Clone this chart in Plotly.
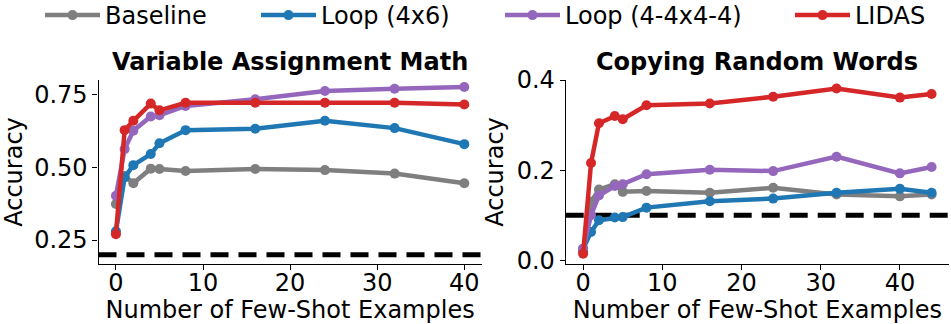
import plotly.graph_objects as go

# Few-shot counts for each task
shots_math = [0, 1, 2, 4, 5, 8, 16, 24, 32, 40]
shots_copy = [0, 1, 2, 4, 5, 8, 16, 24, 32, 40, 44]

# Variable Assignment Math accuracy
math_baseline = [0.374, 0.470, 0.445, 0.495, 0.494, 0.487, 0.494, 0.490, 0.478, 0.445]
math_loop46 = [0.280, 0.465, 0.507, 0.545, 0.582, 0.627, 0.632, 0.659, 0.634, 0.579]
math_loop4444 = [0.402, 0.562, 0.625, 0.674, 0.678, 0.710, 0.733, 0.761, 0.769, 0.775]
math_lidas = [0.270, 0.627, 0.659, 0.718, 0.695, 0.721, 0.721, 0.721, 0.721, 0.715]
math_chance = 0.2

# Copying Random Words accuracy
copy_baseline = [0.020, 0.130, 0.157, 0.169, 0.152, 0.154, 0.150, 0.161, 0.146, 0.142, 0.146]
copy_loop46 = [0.026, 0.063, 0.089, 0.095, 0.096, 0.117, 0.131, 0.137, 0.150, 0.159, 0.150]
copy_loop4444 = [0.026, 0.100, 0.144, 0.165, 0.169, 0.191, 0.201, 0.198, 0.230, 0.193, 0.207]
copy_lidas = [0.015, 0.216, 0.304, 0.320, 0.313, 0.344, 0.348, 0.363, 0.381, 0.361, 0.369]
copy_chance = 0.1

series_names = ["Baseline", "Loop (4x6)", "Loop (4-4x4-4)", "LIDAS"]
colors = ["#7f7f7f", "#1f77b4", "#9467bd", "#d62728"]
legend_ids = ["legend", "legend2", "legend3", "legend4"]
legend_x = [40, 256, 500, 790]  # left edge of each legend entry, px

FONT = "DejaVu Sans"
FS = 24
W, H = 951, 324

fig = go.Figure()

panels = [
    ("x", "y", shots_math, [math_baseline, math_loop46, math_loop4444, math_lidas], True),
    ("x2", "y2", shots_copy, [copy_baseline, copy_loop46, copy_loop4444, copy_lidas], False),
]
for xa, ya, xs, ys_list, show in panels:
    for name, col, ys, lg in zip(series_names, colors, ys_list, legend_ids):
        fig.add_trace(go.Scatter(
            x=xs, y=ys, name=name, mode="lines+markers",
            line=dict(color=col, width=4.5),
            marker=dict(color=col, size=10),
            xaxis=xa, yaxis=ya, showlegend=show, legendgroup=name, legend=lg,
        ))

# chance-level dashed lines spanning each panel
for xd, ya, val in [("x domain", "y", math_chance), ("x2 domain", "y2", copy_chance)]:
    fig.add_shape(type="line", xref=xd, yref=ya, x0=0, x1=1, y0=val, y1=val,
                  line=dict(color="black", width=5, dash="18px,10px"), layer="below")

axis_common = dict(
    showline=True, linecolor="black", linewidth=1.2, showgrid=False, zeroline=False,
    ticks="outside", ticklen=5, tickwidth=1.2, tickcolor="black",
    tickfont=dict(family=FONT, size=FS, color="black"), automargin=False,
)
xtitle = dict(text="Number of Few-Shot Examples", standoff=12, font=dict(family=FONT, size=FS))
ytitle = dict(text="Accuracy", standoff=6, font=dict(family=FONT, size=FS))

legend_layout = {}
for lg, lx in zip(legend_ids, legend_x):
    legend_layout[lg] = dict(
        orientation="h", x=lx / W, xanchor="left", y=1 + 7 / H, yanchor="top",
        font=dict(family=FONT, size=FS), bgcolor="rgba(0,0,0,0)", itemwidth=55,
    )

fig.update_layout(
    width=W, height=H,
    margin=dict(l=0, r=0, t=0, b=0, autoexpand=False),
    plot_bgcolor="white", paper_bgcolor="white",
    font=dict(family=FONT, size=FS, color="black"),
    xaxis=dict(domain=[98.5 / W, 481.7 / W], range=[-2, 42], tickvals=[0, 10, 20, 30, 40],
               title=xtitle, anchor="y", ticklabelstandoff=-8, **axis_common),
    yaxis=dict(domain=[1 - 264 / H, 1 - 80 / H], range=[0.168, 0.799],
               tickvals=[0.25, 0.5, 0.75], ticktext=["0.25", "0.50", "0.75"],
               title=ytitle, anchor="x", **axis_common),
    xaxis2=dict(domain=[565.7 / W, 949 / W], range=[-2.2, 46.2], tickvals=[0, 10, 20, 30, 40],
                title=xtitle, anchor="y2", ticklabelstandoff=-8, **axis_common),
    yaxis2=dict(domain=[1 - 264 / H, 1 - 80 / H], range=[-0.008, 0.4],
                tickvals=[0.0, 0.2, 0.4], ticktext=["0.0", "0.2", "0.4"],
                title=ytitle, anchor="x2", **axis_common),
    annotations=[
        dict(text="<b>Variable Assignment Math</b>", xref="paper", yref="paper",
             x=(98.5 + 481.7) / 2 / W, y=1 - 62 / H, xanchor="center", yanchor="middle",
             showarrow=False, font=dict(family=FONT, size=FS, color="black")),
        dict(text="<b>Copying Random Words</b>", xref="paper", yref="paper",
             x=(565.7 + 949) / 2 / W, y=1 - 62 / H, xanchor="center", yanchor="middle",
             showarrow=False, font=dict(family=FONT, size=FS, color="black")),
    ],
    **legend_layout,
)

fig.write_html("out.html")
